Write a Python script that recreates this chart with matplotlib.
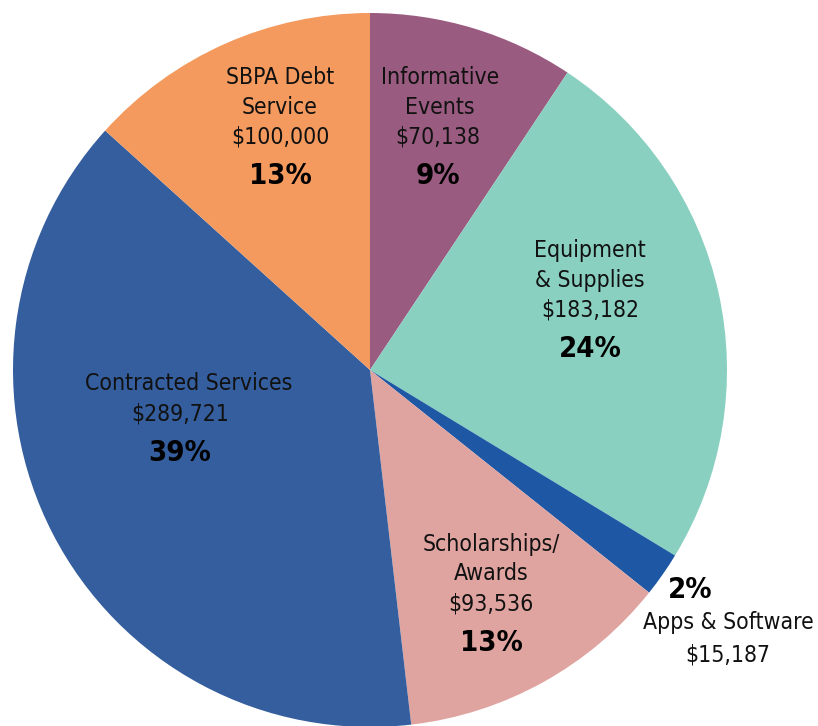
import matplotlib
matplotlib.use("Agg")
import matplotlib.pyplot as plt

categories = ["Informative\nEvents", "Equipment\n& Supplies", "Apps & Software",
              "Scholarships/\nAwards", "Contracted Services", "SBPA Debt\nService"]
values = [70138, 183182, 15187, 93536, 289721, 100000]
percent_labels = ["9%", "24%", "2%", "13%", "39%", "13%"]
colors = ["#9A5B80", "#89D0C1", "#1E58A4", "#E0A4A0", "#355E9E", "#F49A5E"]

W, H = 818, 726
cx, cy, R = 370, 370, 357

fig = plt.figure(figsize=(W / 100, H / 100), dpi=100)
ax = fig.add_axes([0, 0, 1, 1])

ax.pie(values, colors=colors, startangle=90, counterclock=False, radius=1.0,
       center=(0, 0), wedgeprops=dict(linewidth=0))
ax.set_xlim(-cx / R, (W - cx) / R)
ax.set_ylim(-(H - cy) / R, cy / R)
ax.set_aspect("equal")
ax.axis("off")

def px(x, y):
    return ((x - cx) / R, (cy - y) / R)

FONT = ["DejaVu Sans"]
ST = "condensed"
name_fs = 16.5
pct_fs = 21
TXT = "#111111"

# slice index: (name x, value/percent x, first line y) in pixels
layout = {
    0: (440, 438, 77),
    1: (590, 590, 250),
    3: (491, 491, 544),
    4: (189, 180, 384),
    5: (280, 280, 77),
}
line = 30
for i, (xn, xv, y) in layout.items():
    name_lines = categories[i].split("\n")
    yy = y
    for ln in name_lines:
        ax.text(*px(xn, yy), ln, ha="center", va="center", fontsize=name_fs,
                family=FONT, fontstretch=ST, color=TXT)
        yy += line
    ax.text(*px(xv, yy), f"${values[i]:,}", ha="center", va="center",
            fontsize=name_fs, family=FONT, fontstretch=ST, color=TXT)
    ax.text(*px(xv, yy + 39), percent_labels[i], ha="center", va="center",
            fontsize=pct_fs, family=FONT, fontweight="bold", fontstretch=ST, color="black")

ax.text(*px(690, 590), percent_labels[2], ha="center", va="center",
        fontsize=pct_fs, family=FONT, fontweight="bold", fontstretch=ST, color="black")
ax.text(*px(728, 623), categories[2], ha="center", va="center",
        fontsize=name_fs, family=FONT, fontstretch=ST, color=TXT)
ax.text(*px(728, 655), f"${values[2]:,}", ha="center", va="center",
        fontsize=name_fs, family=FONT, fontstretch=ST, color=TXT)

fig.savefig("out.png", dpi=100)
